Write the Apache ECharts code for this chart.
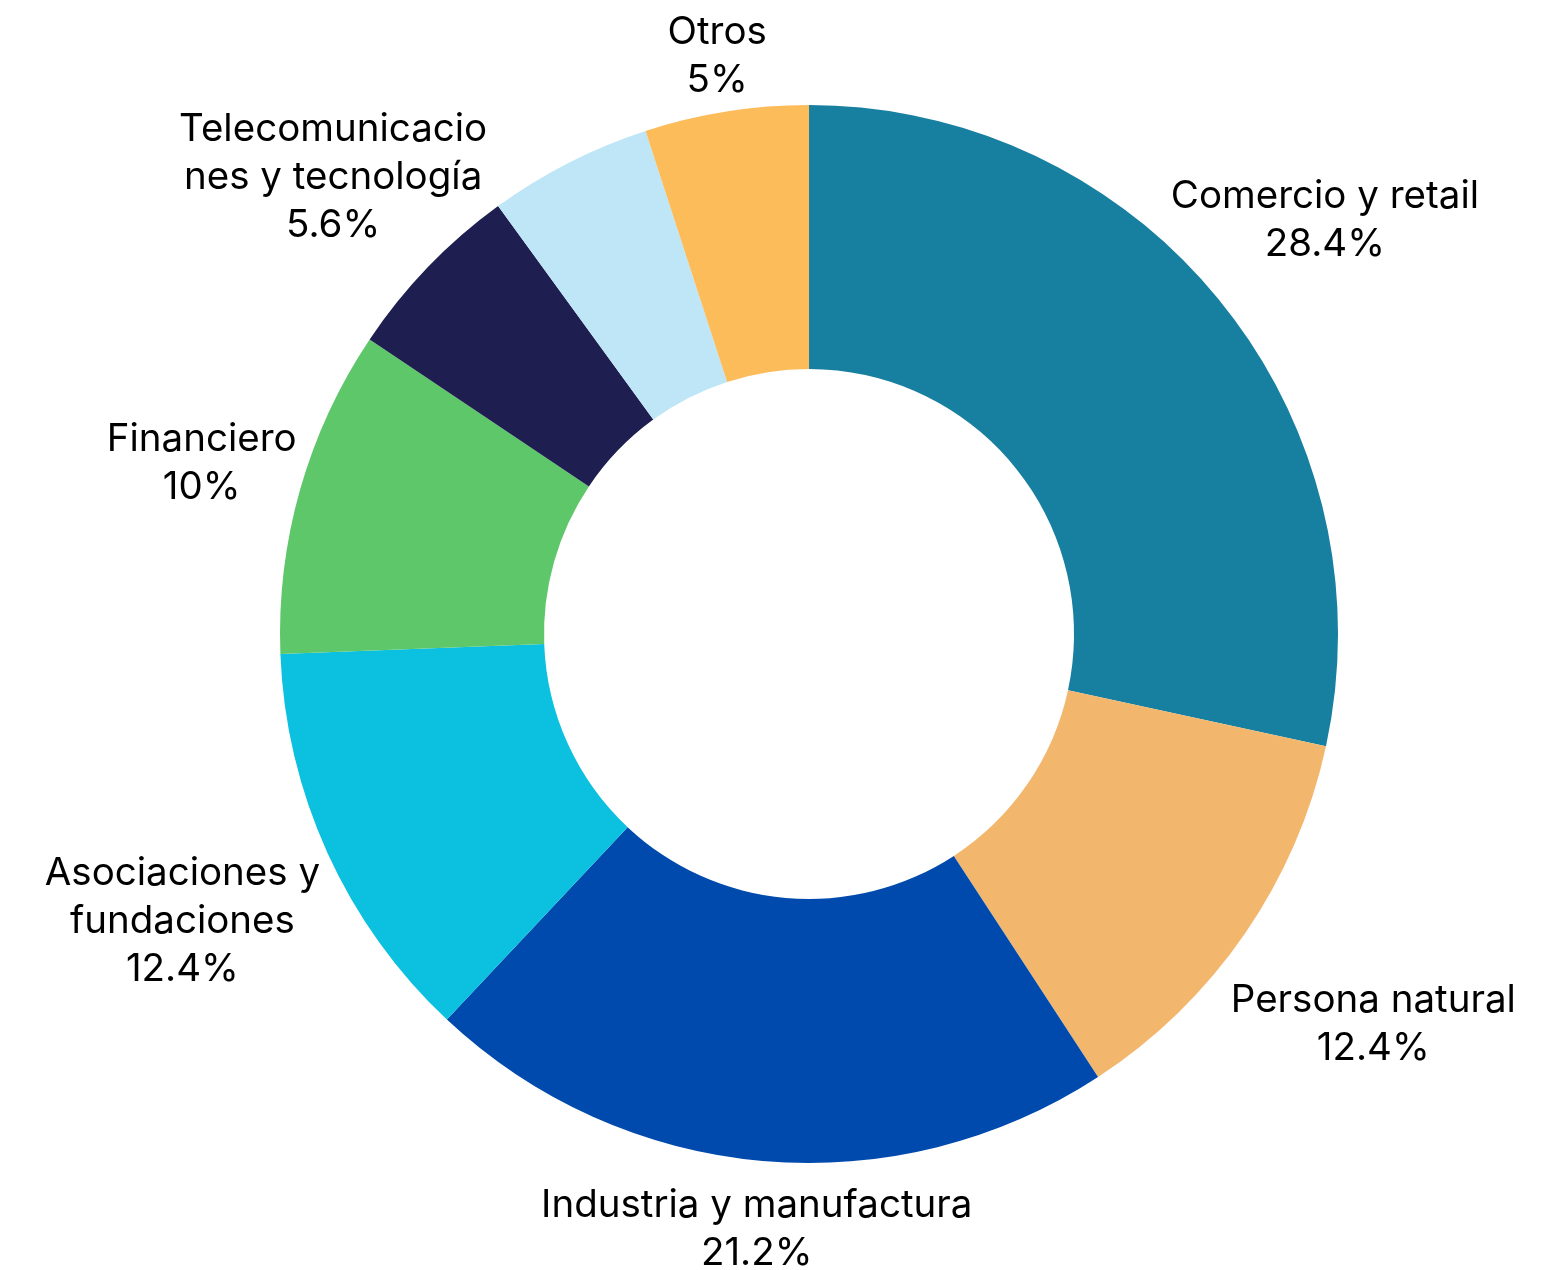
<!DOCTYPE html>
<html>
<head>
<meta charset="utf-8">
<script src="https://cdn.jsdelivr.net/npm/echarts@6/dist/echarts.min.js"></script>
<style>
html,body{margin:0;padding:0;background:#ffffff;}
#chart{width:1557px;height:1270px;}
</style>
</head>
<body>
<div id="chart"></div>
<script>
// ---- data ----
const categories = [
  'Comercio y retail',
  'Persona natural',
  'Industria y manufactura',
  'Asociaciones y fundaciones',
  'Financiero',
  'Telecomunicaciones y tecnología',
  '',
  'Otros'
];
// label text as wrapped in the picture
const labelText = [
  'Comercio y retail',
  'Persona natural',
  'Industria y manufactura',
  'Asociaciones y\nfundaciones',
  'Financiero',
  'Telecomunicacio\nnes y tecnología',
  '',
  'Otros'
];
const values = [28.4, 12.4, 21.2, 12.4, 10, 5.6, 5, 5];
const colors = ['#177f9f', '#f2b76d', '#004aad', '#0cc0df', '#5ec769', '#1e1f50', '#bee6f7', '#fdbc5a'];
const labelShown = [true, true, true, true, true, true, false, true];

// label placement parameters
const GAP = 10;
const DROP = 2;
const LOWER_SIDE_PUSH = 55;

const chart = echarts.init(document.getElementById('chart'), null, { renderer: 'canvas' });

const seriesData = categories.map(function (name, i) {
  return { name: name, value: values[i], itemStyle: { color: colors[i] }, label: { show: labelShown[i] } };
});

chart.setOption({
  animation: false,
  backgroundColor: '#ffffff',
  series: [{
    type: 'pie',
    center: ['51.96%', '49.92%'],
    radius: [265, 529],
    startAngle: 90,
    clockwise: true,
    avoidLabelOverlap: false,
    itemStyle: { borderWidth: 0 },
    data: seriesData,
    label: {
      show: true,
      position: 'outside',
      formatter: function (p) { return labelText[p.dataIndex] + '\n' + p.value + '%'; },
      fontFamily: 'Inter',
      fontSize: 38.5,
      lineHeight: 48,
      color: '#000000'
    },
    labelLine: { show: true, length: 10, length2: 0, lineStyle: { width: 0, opacity: 0 } },
    labelLayout: function (p) {
      const pts = p.labelLinePoints;
      if (!pts) return {};
      const x1 = pts[0][0], y1 = pts[0][1];
      let nx = pts[1][0] - x1, ny = pts[1][1] - y1;
      const len = Math.sqrt(nx * nx + ny * ny) || 1;
      nx /= len; ny /= len;
      const w = p.labelRect.width, h = p.labelRect.height;
      const e = GAP + Math.sqrt(Math.pow(nx * w / 2, 2) + Math.pow(ny * h / 2, 2))
        + LOWER_SIDE_PUSH * Math.max(0, ny) * Math.abs(nx);
      return { x: x1 + nx * e, y: y1 + ny * e + DROP, align: 'center', verticalAlign: 'middle' };
    },
    emphasis: { disabled: true }
  }]
});
</script>
</body>
</html>
